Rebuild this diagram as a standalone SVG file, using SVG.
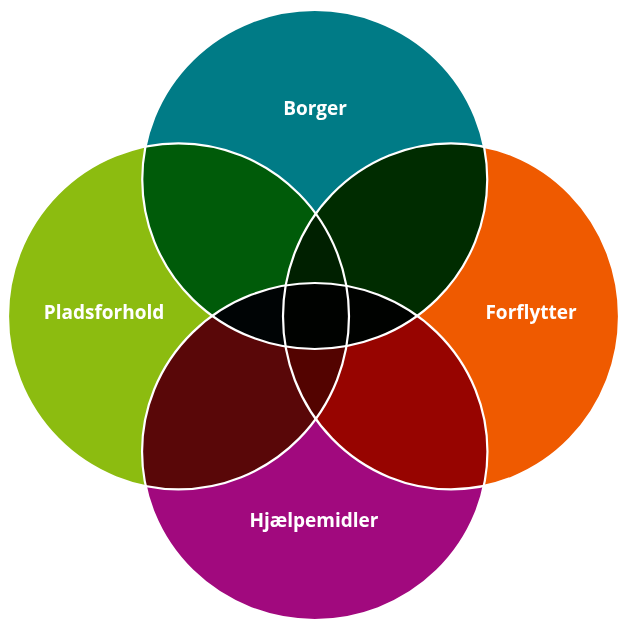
<svg xmlns="http://www.w3.org/2000/svg" width="620" height="622" viewBox="0 0 620 622">
  <style>
    .fill { mix-blend-mode: multiply; }
    .edge { fill: none; stroke: #ffffff; stroke-width: 2.2; }
    .label { font-family: "Open Sans", "DejaVu Sans", sans-serif; font-weight: 700; font-size: 19px; fill: #ffffff; text-anchor: middle; }
  </style>
  <rect x="0" y="0" width="620" height="622" fill="#ffffff"/>
  <g id="fills" style="isolation:isolate">
    <ellipse id="borger-fill" class="fill" cx="314.75" cy="179.5" rx="172.5" ry="169.5" fill="#007b86"/>
    <ellipse id="pladsforhold-fill" class="fill" cx="178.5" cy="316.3" rx="170.5" ry="173" fill="#8cbc10"/>
    <ellipse id="forflytter-fill" class="fill" cx="451" cy="316.3" rx="168" ry="173" fill="#ef5a00"/>
    <ellipse id="hjaelpemidler-fill" class="fill" cx="314.75" cy="451.5" rx="172.7" ry="168.5" fill="#a1097e"/>
  </g>
  <g id="connectors">
    <ellipse class="edge" cx="314.75" cy="179.5" rx="172.5" ry="169.5"/>
    <ellipse class="edge" cx="178.5" cy="316.3" rx="170.5" ry="173"/>
    <ellipse class="edge" cx="451" cy="316.3" rx="168" ry="173"/>
    <ellipse class="edge" cx="314.75" cy="451.5" rx="172.7" ry="168.5"/>
  </g>
  <g id="node-borger"><text class="label" x="315" y="115">Borger</text></g>
  <g id="node-pladsforhold"><text class="label" x="104" y="319">Pladsforhold</text></g>
  <g id="node-forflytter"><text class="label" x="531" y="319">Forflytter</text></g>
  <g id="node-hjaelpemidler"><text class="label" x="314" y="527">Hjælpemidler</text></g>
</svg>
